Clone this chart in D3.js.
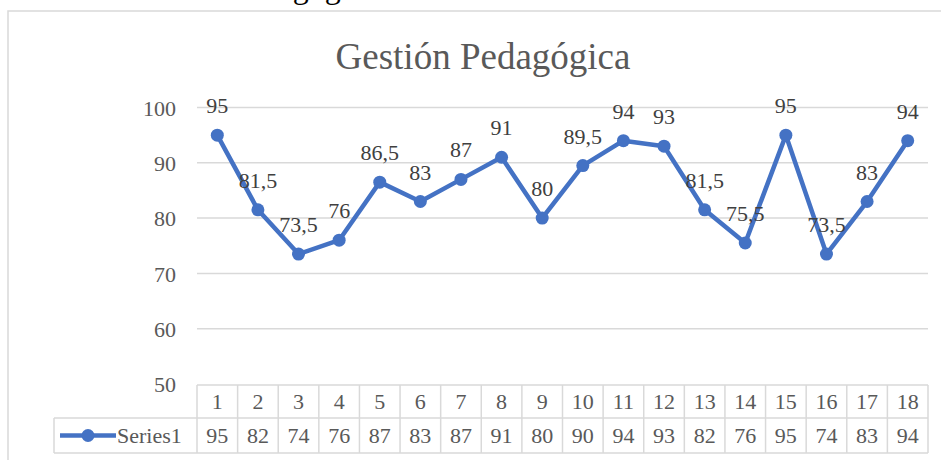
<!DOCTYPE html>
<html>
<head>
<meta charset="utf-8">
<script src="https://cdn.jsdelivr.net/npm/d3@7"></script>
<style>
  html, body { margin: 0; padding: 0; background: #fff; }
  svg { display: block; }
  svg text { font-family: "Liberation Serif", "Tinos", "Times New Roman", "DejaVu Serif", serif; }
</style>
</head>
<body>
<svg id="chart" width="941" height="460"></svg>
<script>
const title = "Gestión Pedagógica";
const seriesName = "Series1";
const categories = ["1","2","3","4","5","6","7","8","9","10","11","12","13","14","15","16","17","18"];
const values = [95, 81.5, 73.5, 76, 86.5, 83, 87, 91, 80, 89.5, 94, 93, 81.5, 75.5, 95, 73.5, 83, 94];
const yTicks = [50, 60, 70, 80, 90, 100];

const blue = "#4472c4";
const grey = "#595959";
const lineGrey = "#d9d9d9";

const svg = d3.select("#chart");

// clipped heading text above the chart frame
svg.append("text")
  .attr("x", 378).attr("y", -2)
  .attr("text-anchor", "end")
  .attr("font-size", 32)
  .attr("fill", "#000")
  .text(title);

// chart frame (extends beyond the window right/bottom)
svg.append("rect")
  .attr("x", 8).attr("y", 11)
  .attr("width", 1000).attr("height", 500)
  .attr("fill", "#fff").attr("stroke", lineGrey).attr("stroke-width", 1.5);

// title
svg.append("text")
  .attr("x", 483).attr("y", 69)
  .attr("text-anchor", "middle")
  .attr("font-size", 37)
  .attr("fill", grey)
  .text(title);

const x = d3.scaleBand().domain(categories).range([197, 928]).padding(0);
const y = d3.scaleLinear().domain([50, 100]).range([384, 107.5]);
const cx = d => x(d) + x.bandwidth() / 2;

// gridlines
svg.append("g").selectAll("line")
  .data(yTicks.filter(t => t > 50))
  .join("line")
  .attr("x1", 197).attr("x2", 928)
  .attr("y1", d => y(d)).attr("y2", d => y(d))
  .attr("stroke", lineGrey).attr("stroke-width", 1.5);

// y axis labels
const yAxis = d3.axisLeft(y).tickValues(yTicks).tickSize(0).tickPadding(0);
const yg = svg.append("g").attr("transform", "translate(176,0)").call(yAxis);
yg.select(".domain").remove();
yg.attr("font-family", null).attr("font-size", null);
yg.selectAll("text")
  .attr("font-size", 22)
  .attr("fill", grey).attr("dy", "0.35em");

// data table
const rowTop = 385, rowMid = 418, rowBot = 453, legendLeft = 54;
const tbl = svg.append("g").attr("stroke", lineGrey).attr("stroke-width", 1.5).attr("fill", "none");
tbl.append("line").attr("x1", 197).attr("x2", 928).attr("y1", rowTop).attr("y2", rowTop);
tbl.append("line").attr("x1", legendLeft).attr("x2", 928).attr("y1", rowMid).attr("y2", rowMid);
tbl.append("line").attr("x1", legendLeft).attr("x2", 928).attr("y1", rowBot).attr("y2", rowBot);
tbl.append("line").attr("x1", legendLeft).attr("x2", legendLeft).attr("y1", rowMid).attr("y2", rowBot);
tbl.selectAll("line.v")
  .data(categories.concat(["end"]))
  .join("line").attr("class", "v")
  .attr("x1", (d, i) => i < categories.length ? x(d) : 928)
  .attr("x2", (d, i) => i < categories.length ? x(d) : 928)
  .attr("y1", rowTop).attr("y2", rowBot);

const tg = svg.append("g").attr("font-size", 22).attr("fill", grey).attr("text-anchor", "middle");
tg.selectAll("text.cat").data(categories).join("text").attr("class", "cat")
  .attr("x", d => cx(d)).attr("y", (rowTop + rowMid) / 2).attr("dy", "0.35em")
  .text(d => d);
tg.selectAll("text.val").data(values).join("text").attr("class", "val")
  .attr("x", (d, i) => cx(categories[i])).attr("y", (rowMid + rowBot) / 2).attr("dy", "0.35em")
  .text(d => d3.format(".0f")(d));

// legend key in table
const ly = (rowMid + rowBot) / 2;
svg.append("line").attr("x1", 60).attr("x2", 116).attr("y1", ly).attr("y2", ly)
  .attr("stroke", blue).attr("stroke-width", 4.5);
svg.append("circle").attr("cx", 88).attr("cy", ly).attr("r", 6.5).attr("fill", blue);
svg.append("text").attr("x", 117).attr("y", ly).attr("dy", "0.35em")
  .attr("font-size", 22).attr("fill", grey)
  .text(seriesName);

// line
const line = d3.line().x((d, i) => cx(categories[i])).y(d => y(d));
svg.append("path").datum(values)
  .attr("d", line).attr("fill", "none")
  .attr("stroke", blue).attr("stroke-width", 4.5).attr("stroke-linejoin", "round");

svg.append("g").selectAll("circle").data(values).join("circle")
  .attr("cx", (d, i) => cx(categories[i])).attr("cy", d => y(d))
  .attr("r", 6.5).attr("fill", blue);

// data labels
const locale = d3.formatLocale({ decimal: ",", thousands: ".", grouping: [3], currency: ["", "€"] });
const fmt = v => Number.isInteger(v) ? String(v) : locale.format(".1f")(v);
svg.append("g").selectAll("text").data(values).join("text")
  .attr("x", (d, i) => cx(categories[i])).attr("y", d => y(d) - 22)
  .attr("text-anchor", "middle")
  .attr("font-size", 22).attr("fill", "#404040")
  .text(d => fmt(d));
</script>
</body>
</html>
